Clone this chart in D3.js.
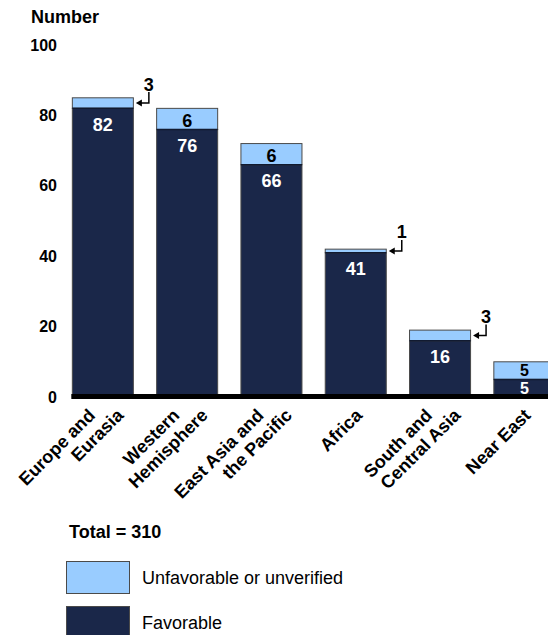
<!DOCTYPE html>
<html>
<head>
<meta charset="utf-8">
<script src="https://cdn.jsdelivr.net/npm/d3@7"></script>
<style>
  html, body { margin: 0; padding: 0; background: #ffffff; }
  svg { display: block; font-family: "Liberation Sans", Arial, sans-serif; }
</style>
</head>
<body>
<svg id="chart" width="548" height="635"></svg>
<script>
// Regions and their counts
const categories = ["Europe and Eurasia", "Western Hemisphere", "East Asia and the Pacific", "Africa", "South and Central Asia", "Near East"];
const categoryLines = [["Europe and", "Eurasia"], ["Western", "Hemisphere"], ["East Asia and", "the Pacific"], ["Africa"], ["South and", "Central Asia"], ["Near East"]];
const favorable = [82, 76, 66, 41, 16, 5];
const unfavorable = [3, 6, 6, 1, 3, 5];
const yTicks = [0, 20, 40, 60, 80, 100];
const seriesNames = ["Unfavorable or unverified", "Favorable"];

const NAVY = "#1a2749";
const LIGHT = "#99ccff";
const OUTLINE = "#4a4a4a";

const svg = d3.select("#chart");

const x = d3.scaleBand()
  .domain(categories)
  .range([60.7, 566.5])
  .paddingInner(0.276)
  .paddingOuter(0.138);

const y = d3.scaleLinear().domain([0, 100]).range([397, 45]);

// axis title
svg.append("text")
  .attr("x", 31).attr("y", 23)
  .attr("font-size", 18).attr("font-weight", "bold")
  .text("Number");

// y tick labels (no axis line, no tick marks)
const yAxis = d3.axisLeft(y).tickValues(yTicks).tickSize(0).tickPadding(0);
const yg = svg.append("g").attr("transform", "translate(57,0)").call(yAxis);
yg.select(".domain").remove();
yg.selectAll("text")
  .attr("font-size", 16).attr("font-weight", "bold")
  .attr("font-family", "Liberation Sans, Arial, sans-serif")
  .attr("fill", "#000");

const rows = categories.map((c, i) => ({ c, fav: favorable[i], unf: unfavorable[i], lines: categoryLines[i] }));

const bars = svg.append("g");
// favorable (bottom) segment
bars.selectAll("rect.fav").data(rows).join("rect")
  .attr("class", "fav")
  .attr("x", d => x(d.c)).attr("width", x.bandwidth())
  .attr("y", d => y(d.fav)).attr("height", d => y(0) - y(d.fav))
  .attr("fill", NAVY).attr("stroke", OUTLINE).attr("stroke-width", 1);
// unfavorable (top) segment
bars.selectAll("rect.unf").data(rows).join("rect")
  .attr("class", "unf")
  .attr("x", d => x(d.c)).attr("width", x.bandwidth())
  .attr("y", d => y(d.fav + d.unf)).attr("height", d => y(d.fav) - y(d.fav + d.unf))
  .attr("fill", LIGHT).attr("stroke", OUTLINE).attr("stroke-width", 1);
// divider between segments
bars.selectAll("line.div").data(rows).join("line")
  .attr("x1", d => x(d.c)).attr("x2", d => x(d.c) + x.bandwidth())
  .attr("y1", d => y(d.fav)).attr("y2", d => y(d.fav))
  .attr("stroke", "#111a30").attr("stroke-width", 1.5);

// baseline
svg.append("line")
  .attr("x1", x(categories[0]) - 1).attr("x2", 548)
  .attr("y1", y(0) - 0.5).attr("y2", y(0) - 0.5)
  .attr("stroke", "#000").attr("stroke-width", 5);

// favorable value labels
const labels = svg.append("g").attr("font-weight", "bold").attr("text-anchor", "middle");
const favH = d => y(0) - y(d.fav);
const unfH = d => y(d.fav) - y(d.fav + d.unf);
labels.selectAll("text.fav").data(rows).join("text")
  .attr("x", d => x(d.c) + x.bandwidth() / 2)
  .attr("y", d => favH(d) < 32 ? y(d.fav) + favH(d) / 2 + 0.5 : y(d.fav) + 16)
  .attr("dy", "0.36em")
  .attr("font-size", d => favH(d) < 20 ? 16 : 18)
  .attr("fill", "#fff")
  .text(d => d.fav);

// unfavorable value labels: inside if the segment is tall enough, otherwise a callout
const inside = rows.filter(d => unfH(d) >= 15);
const callout = rows.filter(d => unfH(d) < 15);

labels.selectAll("text.unf").data(inside).join("text")
  .attr("x", d => x(d.c) + x.bandwidth() / 2)
  .attr("y", d => (y(d.fav) + y(d.fav + d.unf)) / 2 + (unfH(d) < 20 ? 0 : 1.5))
  .attr("dy", "0.36em")
  .attr("font-size", d => unfH(d) < 20 ? 16 : 18)
  .attr("fill", "#000")
  .text(d => d.unf);

const co = svg.append("g");
callout.forEach(d => {
  const tipX = x(d.c) + x.bandwidth() + 2.5;
  const cy = y(d.fav + d.unf / 2);
  const cx = tipX + 13;
  co.append("path")
    .attr("d", `M${cx},${cy - 11}V${cy}H${tipX + 4}`)
    .attr("fill", "none").attr("stroke", "#000").attr("stroke-width", 1.5);
  co.append("path")
    .attr("d", `M${tipX},${cy}L${tipX + 6},${cy - 3.5}L${tipX + 6},${cy + 3.5}Z`)
    .attr("fill", "#000");
  co.append("text")
    .attr("x", cx).attr("y", cy - 19).attr("dy", "0.36em")
    .attr("text-anchor", "middle").attr("font-size", 18).attr("font-weight", "bold")
    .text(d.unf);
});

// rotated category labels
const cat = svg.append("g").attr("font-size", 18).attr("font-weight", "bold");
rows.forEach(d => {
  const n = d.lines.length;
  const cxBand = x(d.c) + x.bandwidth() / 2;
  d.lines.forEach((line, i) => {
    const px = cxBand + 3 + (i - (n - 1) / 2) * 28.3;
    cat.append("text")
      .attr("transform", `translate(${px},412) rotate(-45)`)
      .attr("text-anchor", "end")
      .attr("dy", "0.35em")
      .text(line);
  });
});

// legend
const total = d3.sum(favorable) + d3.sum(unfavorable);
svg.append("text")
  .attr("x", 69).attr("y", 538)
  .attr("font-size", 18).attr("font-weight", "bold")
  .text(`Total = ${total}`);

const legend = svg.append("g");
[LIGHT, NAVY].forEach((col, i) => {
  const top = 561 + i * 45;
  legend.append("rect")
    .attr("x", 66.5).attr("y", top + 0.5).attr("width", 63).attr("height", 32)
    .attr("fill", col).attr("stroke", OUTLINE).attr("stroke-width", 1);
  legend.append("text")
    .attr("x", 142).attr("y", top + 17).attr("dy", "0.35em")
    .attr("font-size", 18)
    .text(seriesNames[i]);
});
</script>
</body>
</html>
